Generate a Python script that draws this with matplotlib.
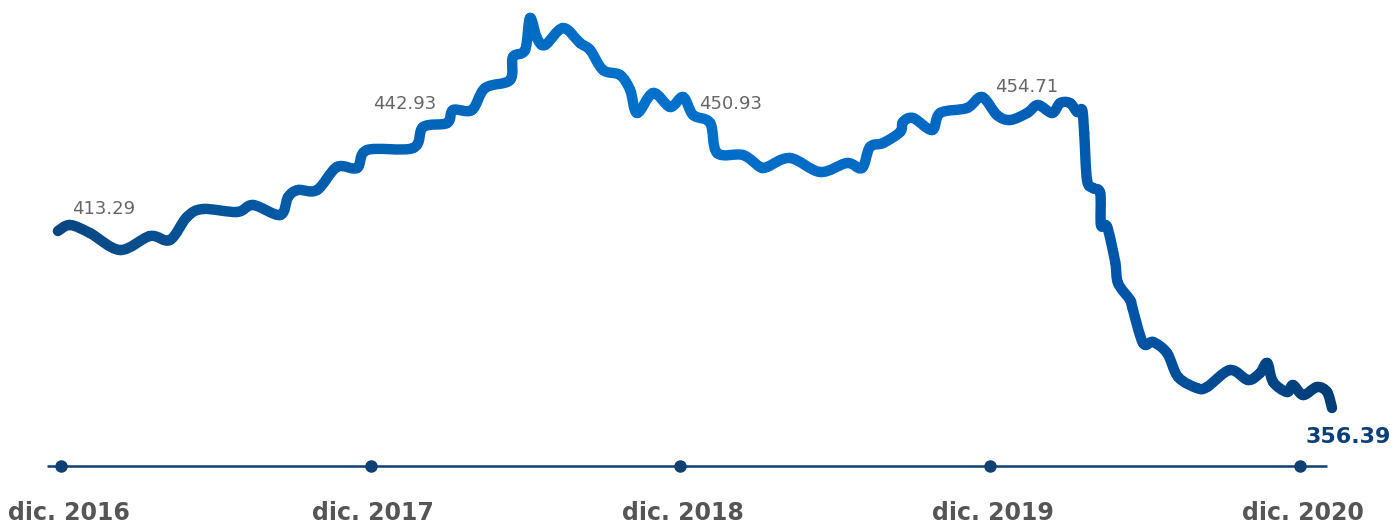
import numpy as np
import matplotlib
matplotlib.use("Agg")
import matplotlib.pyplot as plt
from matplotlib.path import Path
from matplotlib.patches import PathPatch
from matplotlib.colors import LinearSegmentedColormap

# months since dic. 2016 and index value
months = [-0.12, 0.35, 1.12, 2.29, 3.45, 4.22, 4.88, 5.50, 6.82, 7.44, 8.49, 8.80, 9.18,
          9.92, 10.69, 11.47, 11.86, 13.64, 14.03, 14.96, 15.19, 15.92, 16.43, 17.40,
          17.51, 17.98, 18.17, 18.44, 18.75, 19.45, 20.11, 20.50, 21.00, 21.66, 22.05,
          22.32, 22.94, 23.60, 24.10, 24.49, 25.15, 25.42, 26.42, 27.08, 27.35, 28.25,
          29.41, 30.45, 31.03, 31.34, 31.85, 32.51, 32.62, 33.01, 33.75, 34.06, 35.10,
          35.68, 36.26, 36.77, 37.43, 37.85, 38.40, 38.71, 39.09, 39.37, 39.56, 39.64,
          39.75, 39.98, 40.26, 40.29, 40.53, 40.84, 40.95, 41.42, 41.50, 41.92, 42.31,
          42.85, 43.28, 44.01, 44.40, 45.29, 45.99, 46.45, 46.73, 46.96, 47.50, 47.73,
          48.12, 48.66, 49.05, 49.24]
values = [413.29, 415.22, 412.65, 407.18, 411.68, 410.40, 417.79, 420.36, 419.40, 421.65,
          418.43, 424.22, 426.47, 426.47, 433.87, 433.55, 439.33, 439.97, 446.73, 448.01,
          452.19, 452.19, 459.26, 461.84, 469.23, 471.48, 481.77, 475.34, 473.09, 478.56,
          473.73, 471.48, 465.05, 463.44, 458.62, 451.23, 457.66, 453.16, 456.37, 450.58,
          448.01, 438.37, 437.72, 433.87, 433.87, 436.76, 432.26, 435.15, 433.55, 440.30,
          441.58, 445.12, 448.33, 449.62, 445.76, 451.23, 452.83, 456.37, 450.58, 448.98,
          451.23, 453.80, 451.23, 454.44, 454.44, 451.55, 452.19, 444.80, 429.69, 427.11,
          425.51, 415.22, 414.58, 403.32, 396.57, 391.10, 388.86, 377.28, 377.60, 374.07,
          366.35, 362.81, 363.13, 368.60, 365.38, 367.63, 370.85, 364.74, 361.53, 363.78,
          360.56, 363.13, 361.53, 356.39]

tick_months = [0, 12, 24, 36, 48]
tick_labels = ["dic. 2016", "dic. 2017", "dic. 2018", "dic. 2019", "dic. 2020"]

callouts = ["413.29", "442.93", "450.93", "454.71"]
callout_x = [0.43, 12.09, 24.72, 36.19]
callout_y = [420.36, 454.12, 454.12, 459.59]
last_label = "356.39"

fig = plt.figure(figsize=(13.96, 5.32), dpi=100)
ax = fig.add_axes([0, 0, 1, 1])
ax.set_xlim(-2.363, 51.72)
ax.set_ylim(316.52, 487.56)
ax.axis("off")

cmap = LinearSegmentedColormap.from_list(
    "grad", [(0, "#0a4680"), (0.25, "#0062b4"), (0.45, "#0071cb"),
             (0.7, "#0068c2"), (0.85, "#0054a6"), (1, "#003e78")])
norm = plt.Normalize(min(months), max(months))

# smooth curve: one cubic bezier per segment (catmull-rom tangents), coloured by position
x = np.array(months)
y = np.array(values)
P = np.column_stack([x, y])
n = len(P)
for i in range(n - 1):
    p0 = P[max(i - 1, 0)]
    p1 = P[i]
    p2 = P[i + 1]
    p3 = P[min(i + 2, n - 1)]
    c1 = p1 + (p2 - p0) / 6
    c2 = p2 - (p3 - p1) / 6
    path = Path([p1, c1, c2, p2], [Path.MOVETO, Path.CURVE4, Path.CURVE4, Path.CURVE4])
    col = cmap(norm((p1[0] + p2[0]) / 2))
    ax.add_patch(PathPatch(path, fill=False, edgecolor=col, lw=7.5,
                           capstyle="round", joinstyle="round"))

# baseline with dots
base = 337.74
ax.plot([-0.54, 49.05], [base, base], color="#0f3f73", lw=1.8, solid_capstyle="butt")
ax.plot(tick_months, [base] * len(tick_months), "o", color="#0f3f73", ms=9, mew=0)
for i, (m, lab) in enumerate(zip(tick_months, tick_labels)):
    xpos = m + 0.31 if i == 0 else m + 0.1
    ax.text(xpos, 322.7, lab, ha="center", va="center", fontsize=17,
            fontweight="bold", color="#555555", family="DejaVu Sans")

for cx, cy, lab in zip(callout_x, callout_y, callouts):
    ax.text(cx, cy, lab, ha="left", va="center", fontsize=13,
            color="#666666", family="DejaVu Sans")

ax.text(48.2, 347.06, last_label, ha="left", va="center", fontsize=16,
        fontweight="bold", color="#0a3f78", family="DejaVu Sans")

fig.savefig("out.png", dpi=100)
